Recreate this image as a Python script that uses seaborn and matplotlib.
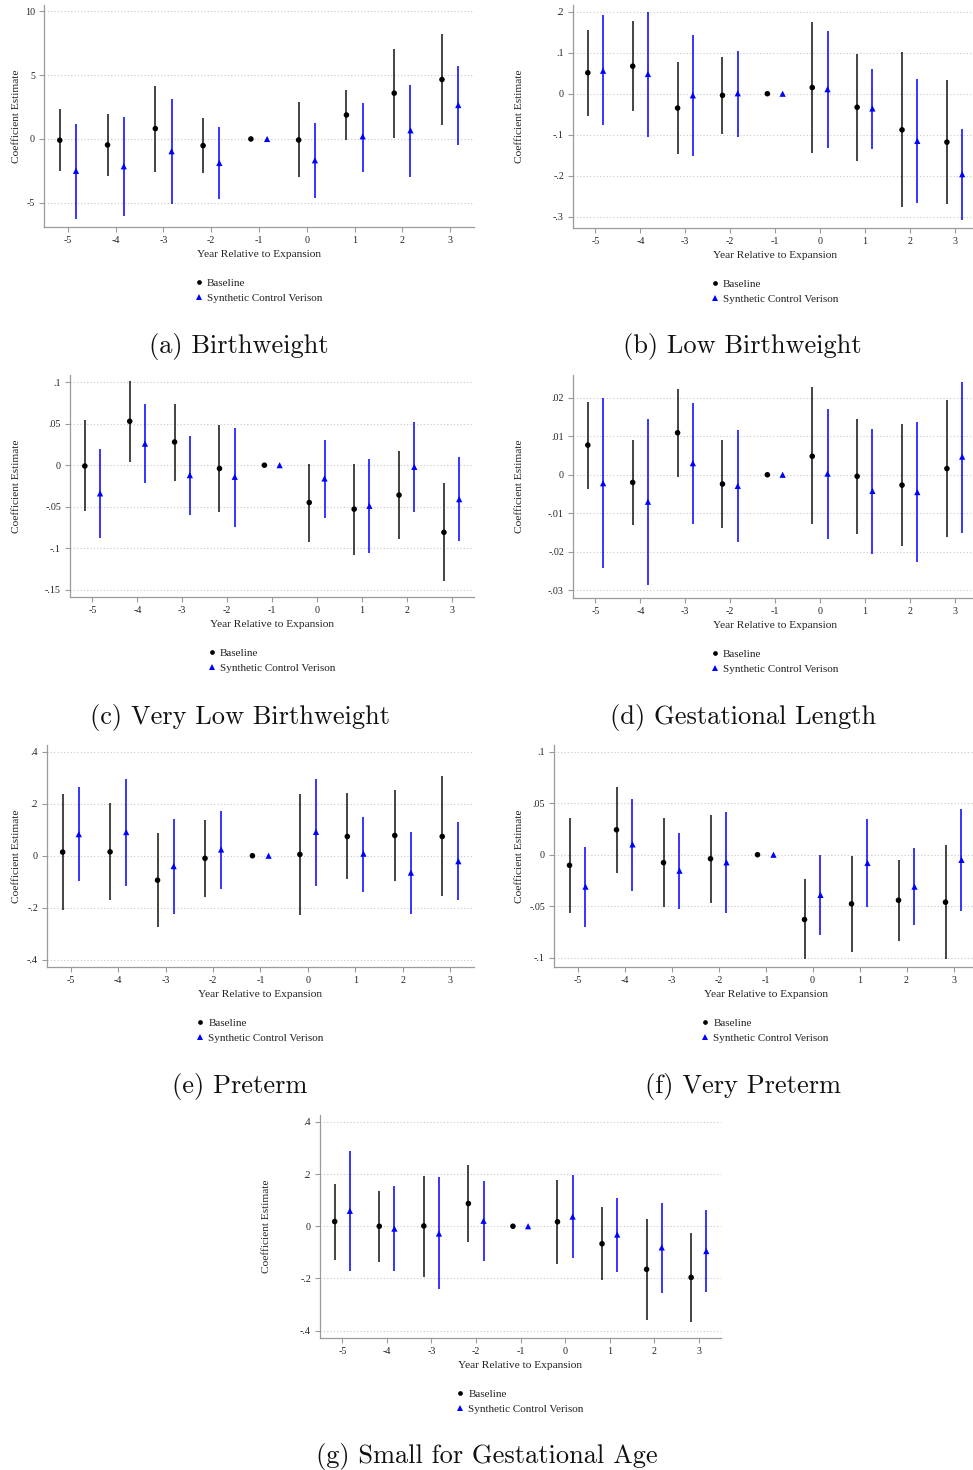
import numpy as np
import pandas as pd
import matplotlib
matplotlib.use("Agg")
import matplotlib.pyplot as plt
from matplotlib.ticker import FuncFormatter, FixedLocator
import seaborn as sns

# ---------------- data ----------------
YEARS = [-5, -4, -3, -2, -1, 0, 1, 2, 3]
XTICKS = [-5, -4, -3, -2, -1, 0, 1, 2, 3]

# (a) Birthweight
a_base_est = [-0.10, -0.47, 0.81, -0.52, 0.0, -0.08, 1.88, 3.59, 4.66]
a_base_lo = [-2.53, -2.94, -2.55, -2.68, 0.0, -3.02, -0.08, 0.05, 1.09]
a_base_hi = [2.35, 1.98, 4.14, 1.64, 0.0, 2.86, 3.80, 7.08, 8.23]
a_syn_est = [-2.50, -2.14, -0.96, -1.88, 0.0, -1.67, 0.21, 0.68, 2.66]
a_syn_lo = [-6.30, -6.02, -5.08, -4.74, 0.0, -4.64, -2.55, -3.00, -0.47]
a_syn_hi = [1.20, 1.72, 3.15, 0.96, 0.0, 1.28, 2.81, 4.22, 5.68]
a_yticks = [-5, 0, 5, 10]

# (b) Low Birthweight
b_base_est = [0.051, 0.067, -0.035, -0.004, 0.0, 0.015, -0.033, -0.088, -0.118]
b_base_lo = [-0.054, -0.042, -0.146, -0.098, 0.0, -0.144, -0.163, -0.276, -0.268]
b_base_hi = [0.156, 0.176, 0.076, 0.089, 0.0, 0.174, 0.097, 0.101, 0.033]
b_syn_est = [0.056, 0.048, -0.004, 0.001, 0.0, 0.011, -0.036, -0.115, -0.196]
b_syn_lo = [-0.077, -0.106, -0.152, -0.105, 0.0, -0.132, -0.134, -0.267, -0.308]
b_syn_hi = [0.191, 0.199, 0.143, 0.104, 0.0, 0.153, 0.060, 0.035, -0.085]
b_yticks = [-0.3, -0.2, -0.1, 0, 0.1, 0.2]

# (c) Very Low Birthweight
c_base_est = [-0.001, 0.053, 0.028, -0.004, 0.0, -0.045, -0.053, -0.036, -0.081]
c_base_lo = [-0.055, 0.004, -0.019, -0.057, 0.0, -0.093, -0.108, -0.089, -0.140]
c_base_hi = [0.054, 0.101, 0.074, 0.048, 0.0, 0.002, 0.002, 0.017, -0.022]
c_syn_est = [-0.034, 0.026, -0.012, -0.014, 0.0, -0.016, -0.049, -0.002, -0.041]
c_syn_lo = [-0.088, -0.022, -0.060, -0.075, 0.0, -0.064, -0.106, -0.056, -0.092]
c_syn_hi = [0.020, 0.074, 0.035, 0.045, 0.0, 0.030, 0.008, 0.052, 0.010]
c_yticks = [-0.15, -0.1, -0.05, 0, 0.05, 0.1]

# (d) Gestational Length
d_base_est = [0.0077, -0.0020, 0.0109, -0.0024, 0.0, 0.0048, -0.0004, -0.0027, 0.0016]
d_base_lo = [-0.0036, -0.0131, -0.0006, -0.0139, 0.0, -0.0129, -0.0154, -0.0184, -0.0162]
d_base_hi = [0.0190, 0.0091, 0.0222, 0.0090, 0.0, 0.0227, 0.0144, 0.0131, 0.0193]
d_syn_est = [-0.0022, -0.0070, 0.0030, -0.0029, 0.0, 0.0003, -0.0042, -0.0045, 0.0047]
d_syn_lo = [-0.0242, -0.0285, -0.0129, -0.0174, 0.0, -0.0167, -0.0205, -0.0227, -0.0150]
d_syn_hi = [0.0198, 0.0145, 0.0187, 0.0115, 0.0, 0.0171, 0.0120, 0.0137, 0.0240]
d_yticks = [-0.03, -0.02, -0.01, 0, 0.01, 0.02]

# (e) Preterm
e_base_est = [0.014, 0.015, -0.094, -0.010, 0.0, 0.005, 0.074, 0.078, 0.074]
e_base_lo = [-0.208, -0.171, -0.276, -0.158, 0.0, -0.227, -0.091, -0.099, -0.155]
e_base_hi = [0.236, 0.201, 0.087, 0.136, 0.0, 0.238, 0.240, 0.251, 0.305]
e_syn_est = [0.083, 0.091, -0.040, 0.024, 0.0, 0.092, 0.008, -0.065, -0.021]
e_syn_lo = [-0.096, -0.117, -0.223, -0.127, 0.0, -0.115, -0.138, -0.223, -0.169]
e_syn_hi = [0.263, 0.297, 0.142, 0.173, 0.0, 0.297, 0.149, 0.091, 0.128]
e_yticks = [-0.4, -0.2, 0, 0.2, 0.4]

# (f) Very Preterm
f_base_est = [-0.0103, 0.0242, -0.0077, -0.0039, 0.0, -0.0629, -0.0477, -0.0442, -0.0461]
f_base_lo = [-0.0568, -0.0174, -0.0510, -0.0468, 0.0, -0.1016, -0.0942, -0.0835, -0.1016]
f_base_hi = [0.0360, 0.0655, 0.0352, 0.0384, 0.0, -0.0239, -0.0016, -0.0055, 0.0090]
f_syn_est = [-0.0310, 0.0100, -0.0155, -0.0074, 0.0, -0.0390, -0.0080, -0.0310, -0.0050]
f_syn_lo = [-0.0697, -0.0348, -0.0529, -0.0561, 0.0, -0.0777, -0.0506, -0.0687, -0.0545]
f_syn_hi = [0.0074, 0.0539, 0.0213, 0.0419, 0.0, -0.0003, 0.0345, 0.0065, 0.0442]
f_yticks = [-0.1, -0.05, 0, 0.05, 0.1]

# (g) Small for Gestational Age
g_base_est = [0.018, 0.000, 0.001, 0.087, 0.0, 0.017, -0.067, -0.165, -0.196]
g_base_lo = [-0.128, -0.136, -0.194, -0.062, 0.0, -0.144, -0.206, -0.360, -0.365]
g_base_hi = [0.163, 0.136, 0.194, 0.236, 0.0, 0.176, 0.073, 0.028, -0.027]
g_syn_est = [0.059, -0.009, -0.028, 0.021, 0.0, 0.037, -0.032, -0.081, -0.095]
g_syn_lo = [-0.173, -0.173, -0.242, -0.133, 0.0, -0.122, -0.177, -0.254, -0.250]
g_syn_hi = [0.287, 0.153, 0.187, 0.172, 0.0, 0.195, 0.110, 0.090, 0.062]
g_yticks = [-0.4, -0.2, 0, 0.2, 0.4]

CAPTIONS = ["(a) Birthweight", "(b) Low Birthweight", "(c) Very Low Birthweight",
            "(d) Gestational Length", "(e) Preterm", "(f) Very Preterm",
            "(g) Small for Gestational Age"]
SERIES = ["Baseline", "Synthetic Control Verison"]
XLABEL = "Year Relative to Expansion"
YLABEL = "Coefficient Estimate"

# ---------------- style ----------------
sns.set_style("white")
plt.rcParams["font.family"] = ["Liberation Serif", "DejaVu Serif"]

W, H = 973, 1470
fig = plt.figure(figsize=(W / 100, H / 100), dpi=100)
GRAY = "#9a9a9a"
FS_LABEL = 8.2
FS_LEG = 8.0
FS_TICK = 7.2


def yfmt(v, pos=None):
    if abs(v) < 1e-12:
        return "0"
    s = f"{v:g}"
    if s.startswith("0."):
        s = s[1:]
    elif s.startswith("-0."):
        s = "-" + s[2:]
    return s


# panel boxes in pixels: left, top, right, bottom ; ylim ; yticks ; ylabel x(px)
panels = [
    dict(box=(44, 5, 474, 227), ylim=(-6.9, 10.5), yt=a_yticks, ylx=16,
         d=(a_base_est, a_base_lo, a_base_hi, a_syn_est, a_syn_lo, a_syn_hi), cap=(239, 347)),
    dict(box=(573, 5, 977, 228), ylim=(-0.327, 0.216), yt=b_yticks, ylx=519,
         d=(b_base_est, b_base_lo, b_base_hi, b_syn_est, b_syn_lo, b_syn_hi), cap=(742.5, 347)),
    dict(box=(70, 375, 474, 597), ylim=(-0.159, 0.1088), yt=c_yticks, ylx=16,
         d=(c_base_est, c_base_lo, c_base_hi, c_syn_est, c_syn_lo, c_syn_hi), cap=(239.5, 717)),
    dict(box=(573, 375, 977, 598), ylim=(-0.032, 0.0259), yt=d_yticks, ylx=519,
         d=(d_base_est, d_base_lo, d_base_hi, d_syn_est, d_syn_lo, d_syn_hi), cap=(743, 717)),
    dict(box=(47, 745, 474, 967), ylim=(-0.428, 0.426), yt=e_yticks, ylx=16,
         d=(e_base_est, e_base_lo, e_base_hi, e_syn_est, e_syn_lo, e_syn_hi), cap=(240, 1087)),
    dict(box=(554, 745, 977, 967), ylim=(-0.109, 0.1065), yt=f_yticks, ylx=519,
         d=(f_base_est, f_base_lo, f_base_hi, f_syn_est, f_syn_lo, f_syn_hi), cap=(743, 1087)),
    dict(box=(320, 1115, 721, 1338), ylim=(-0.428, 0.426), yt=g_yticks, ylx=266,
         d=(g_base_est, g_base_lo, g_base_hi, g_syn_est, g_syn_lo, g_syn_hi), cap=(486.5, 1457)),
]

OFF = 0.17
for p, cap in zip(panels, CAPTIONS):
    l, t, r, b = p["box"]
    hgt = b - t
    ax = fig.add_axes([l / W, 1 - b / H, (r - l) / W, hgt / H])
    be, bl, bh, se, sl, sh = p["d"]
    yrs = np.array(YEARS, dtype=float)
    df = pd.DataFrame({
        "x": np.concatenate([yrs - OFF, yrs + OFF]),
        "est": be + se,
        "lo": bl + sl,
        "hi": bh + sh,
        "series": [SERIES[0]] * len(yrs) + [SERIES[1]] * len(yrs),
    })
    for y in p["yt"]:
        ax.axhline(y, color="#c8c8c8", lw=0.8, ls=(0, (1, 2)), zorder=0)
    d0 = df[df.series == SERIES[0]]
    d1 = df[df.series == SERIES[1]]
    ax.vlines(d0.x, d0.lo, d0.hi, color="#111111", lw=1.1, zorder=2)
    ax.vlines(d1.x, d1.lo, d1.hi, color="#0000ff", lw=1.1, zorder=2)
    sns.scatterplot(data=df, x="x", y="est", hue="series", style="series",
                    palette={SERIES[0]: "black", SERIES[1]: "#0000ff"},
                    markers={SERIES[0]: "o", SERIES[1]: "^"},
                    size="series", sizes={SERIES[0]: 16, SERIES[1]: 20},
                    edgecolor="none", linewidth=0, ax=ax, zorder=3, legend=True)
    ax.set_xlim(-5.5, 3.5)
    ax.set_ylim(*p["ylim"])
    ax.xaxis.set_major_locator(FixedLocator(XTICKS))
    ax.yaxis.set_major_locator(FixedLocator(p["yt"]))
    ax.yaxis.set_major_formatter(FuncFormatter(yfmt))
    ax.xaxis.set_major_formatter(FuncFormatter(lambda v, pos: f"{int(round(v))}"))
    for s in ["top", "right"]:
        ax.spines[s].set_visible(False)
    for s in ["left", "bottom"]:
        ax.spines[s].set_color(GRAY)
        ax.spines[s].set_linewidth(0.9)
    ax.tick_params(axis="both", which="major", direction="out", length=3.5, width=0.8,
                   color=GRAY, labelsize=FS_TICK, pad=3, labelcolor="#222222")
    ax.tick_params(left=True, bottom=True)
    ax.set_xlabel(XLABEL, fontsize=FS_LABEL, color="#222222")
    ax.set_ylabel(YLABEL, fontsize=FS_LABEL, color="#222222")
    ax.xaxis.set_label_coords(0.5, -(250 - 227) / 222)
    ax.yaxis.set_label_coords((p["ylx"] + 5 - l) / (r - l), 0.5)
    handles, labels = ax.get_legend_handles_labels()
    leg = ax.legend(handles, labels, loc="upper center", bbox_to_anchor=(0.5, -0.205),
                    frameon=False, fontsize=FS_LEG, handlelength=0.5, handletextpad=0.5,
                    labelspacing=0.45, borderpad=0, markerscale=0.85)
    for txt in leg.get_texts():
        txt.set_color("#222222")
    cx, cy = p["cap"]
    fig.text(cx / W, 1 - cy / H, cap, family="cmr10", fontsize=19, ha="center",
             va="center", color="#111111")

fig.savefig("out.png", dpi=100, facecolor="white")
